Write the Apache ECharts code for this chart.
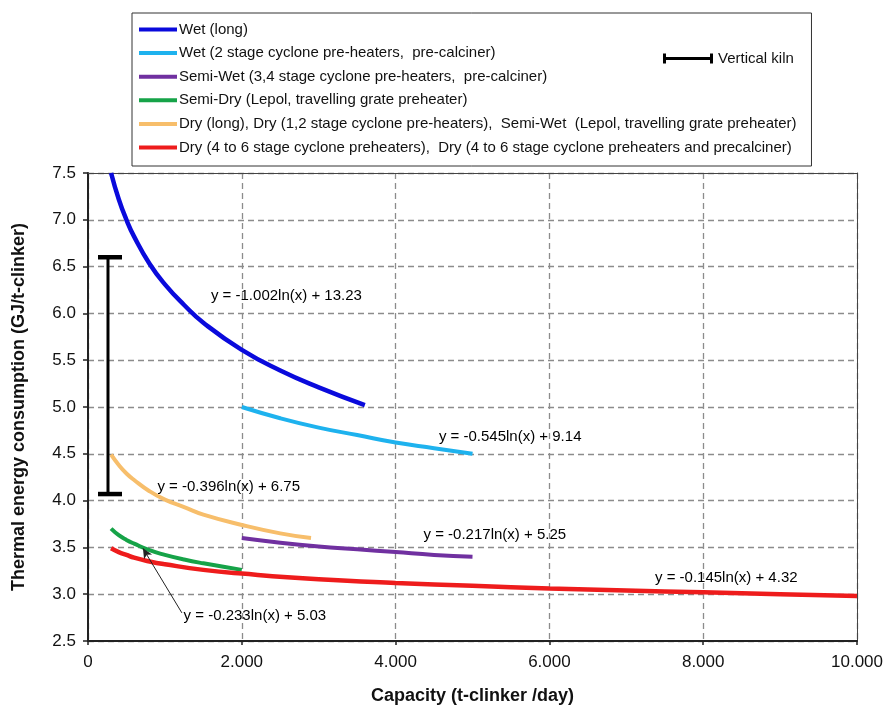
<!DOCTYPE html>
<html>
<head>
<meta charset="utf-8">
<script src="https://cdn.jsdelivr.net/npm/echarts@6/dist/echarts.min.js"></script>
<style>
  html, body { margin: 0; padding: 0; background: #fff; }
  #chart { width: 888px; height: 710px; }
</style>
</head>
<body>
<div id="chart"></div>
<script>
// values (capacity in t-clinker/day, energy in GJ/t-clinker)
const wetLongX = [300, 400, 500, 600, 800, 1000, 1250, 1500, 2000, 2500, 3000, 3600];
const wetLongY = [7.50, 7.22, 7.00, 6.82, 6.53, 6.31, 6.09, 5.90, 5.61, 5.39, 5.21, 5.02];

const wet2X = [2000, 2500, 3000, 3500, 4000, 4500, 5000];
const wet2Y = [5.00, 4.88, 4.78, 4.70, 4.62, 4.56, 4.50];

const semiWetX = [2000, 2500, 3000, 3500, 4000, 4500, 5000];
const semiWetY = [3.60, 3.55, 3.51, 3.48, 3.45, 3.42, 3.40];

const semiDryX = [300, 400, 500, 600, 800, 1000, 1250, 1500, 2000];
const semiDryY = [3.70, 3.63, 3.58, 3.54, 3.47, 3.42, 3.37, 3.33, 3.26];

const dryLongX = [300, 400, 500, 600, 800, 1000, 1250, 1500, 2000, 2500, 2900];
const dryLongY = [4.49, 4.38, 4.29, 4.22, 4.10, 4.01, 3.93, 3.85, 3.74, 3.65, 3.60];

const dry46X = [300, 400, 500, 600, 800, 1000, 1500, 2000, 3000, 4000, 5000, 6000, 7000, 8000, 9000, 10000];
const dry46Y = [3.49, 3.45, 3.42, 3.39, 3.35, 3.32, 3.26, 3.22, 3.16, 3.12, 3.09, 3.06, 3.04, 3.02, 3.00, 2.98];

// vertical kiln range: [capacity, low, high]
const verticalKiln = [[260, 4.07, 6.60]];

const seriesNames = [
  'Wet (long)',
  'Wet (2 stage cyclone pre-heaters,  pre-calciner)',
  'Semi-Wet (3,4 stage cyclone pre-heaters,  pre-calciner)',
  'Semi-Dry (Lepol, travelling grate preheater)',
  'Dry (long), Dry (1,2 stage cyclone pre-heaters),  Semi-Wet  (Lepol, travelling grate preheater)',
  'Dry (4 to 6 stage cyclone preheaters),  Dry (4 to 6 stage cyclone preheaters and precalciner)'
];
const seriesColors = ['#0A0ADC', '#1EB2EE', '#7030A0', '#16A348', '#F7BE6B', '#EE1C1C'];
const seriesWidths = [4.5, 4, 4, 4, 4, 4.5];

// trend equations placed at their label centres [capacity, energy]
const eqText = [
  'y = -1.002ln(x) + 13.23',
  'y = -0.545ln(x) + 9.14',
  'y = -0.396ln(x) + 6.75',
  'y = -0.217ln(x) + 5.25',
  'y = -0.145ln(x) + 4.32',
  'y = -0.233ln(x) + 5.03'
];
const eqX = [2580, 5490, 1830, 5290, 8300, 2170];
const eqY = [6.19, 4.68, 4.15, 3.63, 3.17, 2.77];

// arrow from the semi-dry label to its curve
const arrowFrom = [1221, 2.80];
const arrowTo = [714, 3.49];

const pairs = (xs, ys) => xs.map((x, i) => [x, ys[i]]);
const curveData = [
  pairs(wetLongX, wetLongY),
  pairs(wet2X, wet2Y),
  pairs(semiWetX, semiWetY),
  pairs(semiDryX, semiDryY),
  pairs(dryLongX, dryLongY),
  pairs(dry46X, dry46Y)
];

const fmtThousands = (v) => String(v).replace(/\B(?=(\d{3})+(?!\d))/g, '.');
const FONT = 'Liberation Sans, Arial, sans-serif';

const lineSeries = curveData.map((d, i) => ({
  name: seriesNames[i],
  type: 'line',
  data: d,
  smooth: true,
  showSymbol: false,
  symbol: 'none',
  color: seriesColors[i],
  lineStyle: { width: seriesWidths[i], color: seriesColors[i] },
  z: 3
}));

const kilnIcon = 'path://M0,0 H3 V3.5 H47 V0 H50 V10 H47 V6.5 H3 V10 H0 Z';

const option = {
  animation: false,
  backgroundColor: '#fff',
  textStyle: { fontFamily: FONT },
  grid: { left: 88, right: 31, top: 173, bottom: 67 },
  legend: [
    {
      data: seriesNames.map((n) => ({ name: n, icon: 'rect' })),
      orient: 'vertical',
      left: 132,
      top: 13,
      padding: [8, 15, 10, 7],
      itemGap: 6.6,
      itemWidth: 38,
      itemHeight: 4,
      borderColor: '#333',
      borderWidth: 1,
      selectedMode: false,
      textStyle: { fontSize: 15, lineHeight: 17, color: '#111', fontFamily: FONT, padding: [0, 0, 0, -3] }
    },
    {
      data: [{ name: 'Vertical kiln', icon: kilnIcon }],
      left: 663,
      top: 51,
      padding: 0,
      itemWidth: 50,
      itemHeight: 10,
      selectedMode: false,
      textStyle: { fontSize: 15, color: '#111', fontFamily: FONT }
    }
  ],
  xAxis: [
    {
      type: 'value',
      min: 0,
      max: 10000,
      interval: 2000,
      name: 'Capacity (t-clinker /day)',
      nameLocation: 'middle',
      nameGap: 46,
      nameTextStyle: { fontSize: 18, fontWeight: 'bold', color: '#111', fontFamily: FONT },
      axisLine: { show: true, onZero: false, lineStyle: { color: '#222', width: 2 } },
      axisTick: { show: true, length: 4, lineStyle: { color: '#222', width: 1.5 } },
      axisLabel: { fontSize: 17, color: '#111', margin: 13, formatter: fmtThousands },
      splitLine: { show: true, lineStyle: { color: '#8c8c8c', width: 1.3, type: [6, 4] } }
    },
    {
      type: 'value',
      position: 'top',
      min: 0,
      max: 10000,
      axisLine: { show: true, onZero: false, lineStyle: { color: '#444', width: 1 } },
      axisTick: { show: false },
      axisLabel: { show: false },
      splitLine: { show: false }
    }
  ],
  yAxis: [
    {
      type: 'value',
      min: 2.5,
      max: 7.5,
      interval: 0.5,
      name: 'Thermal energy consumption (GJ/t-clinker)',
      nameLocation: 'middle',
      nameGap: 60,
      nameTextStyle: { fontSize: 18, fontWeight: 'bold', color: '#111', fontFamily: FONT },
      axisLine: { show: true, onZero: false, lineStyle: { color: '#222', width: 2 } },
      axisTick: { show: true, length: 5, lineStyle: { color: '#222', width: 1.5 } },
      axisLabel: { fontSize: 17, color: '#111', margin: 12, formatter: (v) => v.toFixed(1) },
      splitLine: { show: true, lineStyle: { color: '#8c8c8c', width: 1.3, type: [6, 4] } }
    },
    {
      type: 'value',
      position: 'right',
      min: 2.5,
      max: 7.5,
      axisLine: { show: true, onZero: false, lineStyle: { color: '#444', width: 1 } },
      axisTick: { show: false },
      axisLabel: { show: false },
      splitLine: { show: false }
    }
  ],
  series: [
    ...lineSeries,
    {
      name: 'Vertical kiln',
      type: 'custom',
      color: '#000',
      data: verticalKiln,
      z: 4,
      renderItem: (params, api) => {
        const top = api.coord([api.value(0), api.value(2)]);
        const bot = api.coord([api.value(0), api.value(1)]);
        const half = 12;
        const style = { stroke: '#000', lineWidth: 3 };
        return {
          type: 'group',
          children: [
            { type: 'line', shape: { x1: top[0], y1: top[1], x2: bot[0], y2: bot[1] }, style },
            { type: 'line', shape: { x1: top[0] - half + 2, y1: top[1], x2: top[0] + half + 2, y2: top[1] }, style: { stroke: '#000', lineWidth: 4.5 } },
            { type: 'line', shape: { x1: bot[0] - half + 2, y1: bot[1], x2: bot[0] + half + 2, y2: bot[1] }, style: { stroke: '#000', lineWidth: 4.5 } }
          ]
        };
      }
    },
    {
      name: 'equations',
      type: 'scatter',
      symbolSize: 0,
      silent: true,
      z: 5,
      itemStyle: { opacity: 1 },
      data: eqText.map((t, i) => ({ name: t, value: [eqX[i], eqY[i]] })),
      label: {
        show: true,
        position: 'inside',
        formatter: '{b}',
        fontSize: 15,
        color: '#000',
        opacity: 1,
        fontFamily: FONT
      },
      markLine: {
        silent: true,
        animation: false,
        symbol: ['none', 'arrow'],
        symbolSize: [7, 10],
        label: { show: false },
        lineStyle: { color: '#222', width: 1, type: 'solid', opacity: 1 },
        data: [[{ coord: arrowFrom }, { coord: arrowTo }]]
      }
    }
  ]
};

const chart = echarts.init(document.getElementById('chart'), null, { renderer: 'canvas' });
chart.setOption(option);
</script>
</body>
</html>
